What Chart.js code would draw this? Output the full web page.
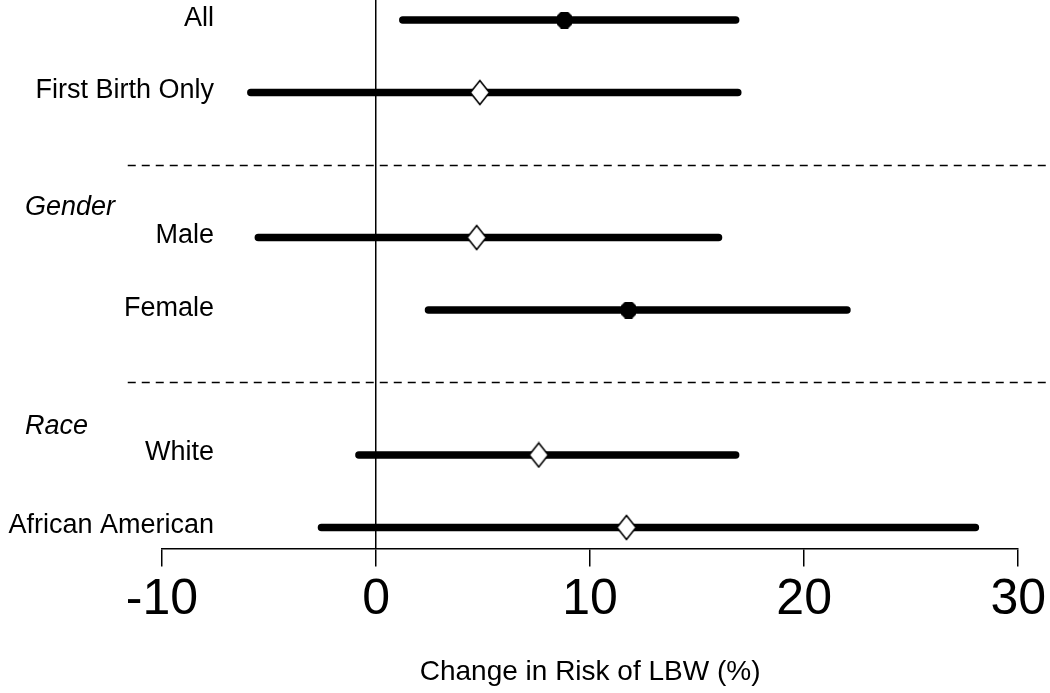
<!DOCTYPE html>
<html>
<head>
<meta charset="utf-8">
<script src="https://cdn.jsdelivr.net/npm/chart.js@4.4.1/dist/chart.umd.min.js"></script>
<style>
  html, body { margin: 0; padding: 0; background: #fff; }
  #wrap { position: relative; width: 1050px; height: 693px; }
</style>
</head>
<body>
<div id="wrap"><canvas id="chart"></canvas></div>
<script>
var rows = ["All", "First Birth Only", "Male", "Female", "White", "African American"];
var rowPos = [0, 1, 3, 4, 6, 7];
var estimate = [8.8, 4.85, 4.7, 11.8, 7.6, 11.7];
var lower = [1.25, -5.85, -5.5, 2.45, -0.8, -2.55];
var upper = [16.8, 16.9, 16.0, 22.0, 16.8, 28.0];
var significant = [true, false, false, true, false, false];
var groups = ["Gender", "Race"];
var groupPos = [2.69, 5.71];
var separators = [2, 5];
var xTicks = [-10, 0, 10, 20, 30];

var FONT = "'Liberation Sans', Arial, sans-serif";

function makeDiamond() {
  var c = document.createElement("canvas");
  c.width = 22; c.height = 27;
  var g = c.getContext("2d");
  g.beginPath();
  g.moveTo(11, 1.5); g.lineTo(20.5, 13.5); g.lineTo(11, 25.5); g.lineTo(1.5, 13.5);
  g.closePath();
  g.fillStyle = "#fff"; g.fill();
  g.lineWidth = 1.6; g.strokeStyle = "#000"; g.stroke();
  return c;
}

function makeBlock() {
  var c = document.createElement("canvas");
  c.width = 15; c.height = 17;
  var g = c.getContext("2d");
  g.fillStyle = "#000";
  g.beginPath();
  g.moveTo(4, 0); g.lineTo(11, 0); g.lineTo(15, 4); g.lineTo(15, 13);
  g.lineTo(11, 17); g.lineTo(4, 17); g.lineTo(0, 13); g.lineTo(0, 4);
  g.closePath(); g.fill();
  return c;
}

var diamond = makeDiamond();
var block = makeBlock();

// one line per row, broken by empty points
var ciData = [];
rows.forEach(function (r, i) {
  ciData.push({ x: lower[i], y: rowPos[i] });
  ciData.push({ x: upper[i], y: rowPos[i] });
  ciData.push({ x: null, y: null });
});

var pointData = rows.map(function (r, i) {
  return { x: estimate[i], y: rowPos[i] };
});

var decorations = {
  id: "decorations",
  afterDraw: function (chart) {
    var ctx = chart.ctx;
    var xs = chart.scales.x, ys = chart.scales.y;
    ctx.save();
    // dashed separators
    ctx.strokeStyle = "#000";
    ctx.lineWidth = 1.5;
    ctx.setLineDash([8, 6]);
    separators.forEach(function (s) {
      var y = Math.round(ys.getPixelForValue(s)) + 0.5;
      ctx.beginPath();
      ctx.moveTo(xs.getPixelForValue(-11.6), y);
      ctx.lineTo(chart.width, y);
      ctx.stroke();
    });
    ctx.setLineDash([]);
    // row labels
    ctx.fillStyle = "#000";
    ctx.textBaseline = "alphabetic";
    ctx.textAlign = "right";
    ctx.font = "27px " + FONT;
    rows.forEach(function (r, i) {
      ctx.fillText(r, 214, ys.getPixelForValue(rowPos[i]) + 5.5);
    });
    // group headings
    ctx.textAlign = "left";
    ctx.font = "italic 27px " + FONT;
    groups.forEach(function (g, i) {
      ctx.fillText(g, 25, ys.getPixelForValue(groupPos[i]));
    });
    ctx.restore();
  }
};

new Chart(document.getElementById("chart"), {
  type: "scatter",
  data: {
    datasets: [
      {
        label: "Estimate",
        data: pointData,
        pointStyle: function (ctx) {
          return significant[ctx.dataIndex] ? block : diamond;
        },
        pointRadius: 8,
        showLine: false,
        order: 0
      },
      {
        label: "95% CI",
        data: ciData,
        showLine: true,
        spanGaps: false,
        borderColor: "#000",
        borderWidth: 7.5,
        borderCapStyle: "round",
        pointRadius: 0,
        order: 1
      }
    ]
  },
  plugins: [decorations],
  options: {
    responsive: true,
    maintainAspectRatio: false,
    animation: false,
    events: [],
    layout: { autoPadding: false, padding: { left: 162, right: 31, top: 0, bottom: 0 } },
    plugins: {
      legend: { display: false },
      tooltip: { enabled: false }
    },
    scales: {
      x: {
        type: "linear",
        min: -10,
        max: 30,
        afterBuildTicks: function (axis) {
          axis.ticks = xTicks.map(function (v) { return { value: v }; });
        },
        border: { display: true, color: "#000", width: 1.5 },
        grid: {
          drawOnChartArea: true,
          color: function (ctx) {
            return ctx.tick && ctx.tick.value === 0 ? "#000" : "rgba(0,0,0,0)";
          },
          tickColor: "#000",
          lineWidth: 1.5,
          tickLength: 18
        },
        ticks: {
          color: "#000",
          padding: 4,
          maxRotation: 0,
          minRotation: 0,
          font: { family: FONT, size: 50 }
        },
        title: {
          display: true,
          text: "Change in Risk of LBW (%)",
          color: "#000",
          font: { family: FONT, size: 28 },
          padding: { top: 21, bottom: 4 }
        }
      },
      y: {
        type: "linear",
        display: false,
        reverse: true,
        min: -0.277,
        max: 7.289
      }
    }
  }
});
</script>
</body>
</html>
